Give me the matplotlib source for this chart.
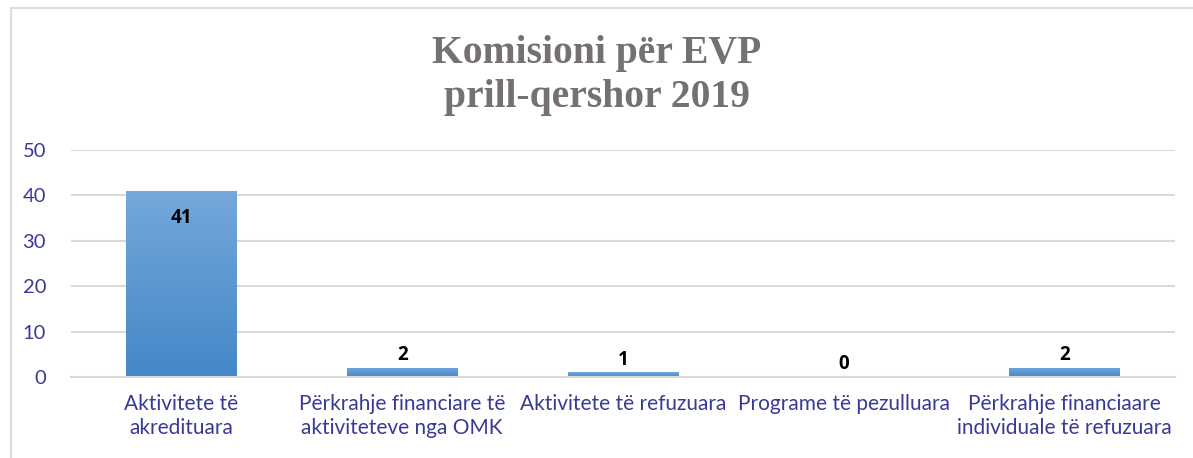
import matplotlib.pyplot as plt
import numpy as np
from matplotlib.patches import Rectangle

categories = [
    "Aktivitete të\nakredituara",
    "Përkrahje financiare të\naktiviteteve nga OMK",
    "Aktivitete të refuzuara",
    "Programe të pezulluara",
    "Përkrahje financiaare\nindividuale të refuzuara",
]
values = [41, 2, 1, 0, 2]
y_ticks = [0, 10, 20, 30, 40, 50]

label_col = "#3a3a96"
grid_col = "#d9d9d9"

fig = plt.figure(figsize=(11.93, 4.58), dpi=100)
fig.patch.set_facecolor("white")

# light frame around the chart area
fig.patches.append(Rectangle((11 / 1193, -0.1), 1.2, (458 - 8) / 458 + 0.1,
                             transform=fig.transFigure, fill=False,
                             edgecolor="#d9dde3", linewidth=1.5))

ax = fig.add_axes([71 / 1193, 81 / 458, 1104 / 1193, 227 / 458])
x = np.arange(len(values))
bars = ax.bar(x, values, width=0.5, color="#5b9bd5", zorder=2)

# vertical gradient on each bar
grad = np.linspace(0, 1, 256).reshape(-1, 1)
cmap = plt.matplotlib.colors.LinearSegmentedColormap.from_list("g", ["#4487c7", "#75a8dc"])
for b in bars:
    h = b.get_height()
    if h <= 0:
        continue
    b.set_facecolor("none")
    im = ax.imshow(grad, cmap=cmap, aspect="auto", origin="lower",
                   extent=[b.get_x(), b.get_x() + b.get_width(), 0, h], zorder=2)
    im.set_clip_path(b)

ax.set_xlim(-0.5, len(values) - 0.5)
ax.set_ylim(0, 50)
ax.set_yticks(y_ticks)
ax.yaxis.grid(True, color=grid_col, linewidth=1.5, zorder=0)
ax.set_axisbelow(True)
for s in ["top", "right", "left"]:
    ax.spines[s].set_visible(False)
ax.spines["bottom"].set_color(grid_col)
ax.spines["bottom"].set_linewidth(1.5)
ax.tick_params(length=0)
ax.tick_params(axis="y", pad=18, labelsize=14.5, labelcolor=label_col)
ax.set_xticks(x)
ax.set_xticklabels(categories, fontsize=15, color=label_col, linespacing=1.25,
                   va="top")
ax.tick_params(axis="x", pad=12)
for t in ax.get_xticklabels() + ax.get_yticklabels():
    t.set_fontfamily("Lato")

for xi, v in zip(x, values):
    if v > 10:
        ax.text(xi, v - 6, str(v), ha="center", va="center", fontsize=13.5,
                fontweight="bold", family="Open Sans", color="black")
    else:
        ax.text(xi, v + 2.8, str(v), ha="center", va="center", fontsize=13.5,
                fontweight="bold", family="Open Sans", color="black")

fig.text(0.5, 1 - 76 / 458, "Komisioni për EVP\nprill-qershor 2019", ha="center",
         va="center", fontsize=28.5, fontweight="bold", family="Liberation Serif",
         color="#757171", linespacing=1.25)

fig.savefig("out.png", dpi=100)
